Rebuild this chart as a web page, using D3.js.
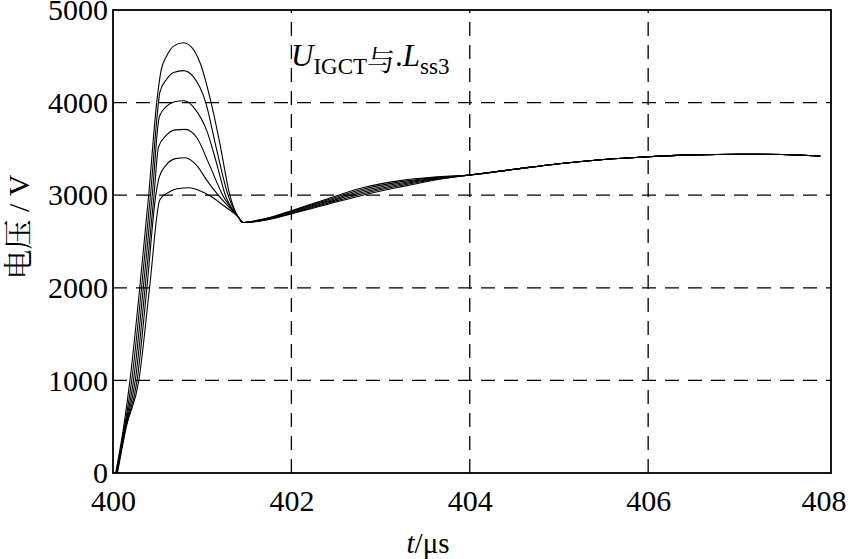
<!DOCTYPE html>
<html>
<head>
<meta charset="utf-8">
<script src="https://cdn.jsdelivr.net/npm/d3@7"></script>
<style>
  body { margin: 0; background: #fff; }
  svg { display: block; }
</style>
</head>
<body>
<svg id="chart" width="848" height="559"></svg>
<script>
// t in µs, U in V — one array per curve (six Lss3 values)
const curve1 = [[400.03,0],[400.12,500],[400.19,1000],[400.30,2000],[400.40,3000],[400.49,4000],[400.54,4350],
  [400.60,4500],[400.68,4610],[400.785,4647],[400.88,4600],[400.98,4420],[401.10,4000],[401.20,3550],[401.31,3000],[401.40,2770],[401.46,2705],
  [401.6,2715],[401.8,2750],[402.0,2798],[402.4,2900],[402.8,3000],[403.2,3085],[403.6,3162]];
const curve2 = [[400.035,0],[400.13,500],[400.21,1000],[400.32,2000],[400.42,3000],[400.51,4000],[400.525,4110],
  [400.60,4250],[400.68,4325],[400.79,4345],[400.90,4280],[401.04,4000],[401.16,3500],[401.29,3000],[401.40,2770],[401.46,2705],
  [401.6,2717],[401.8,2754],[402.0,2805],[402.4,2912],[402.8,3016],[403.2,3099],[403.6,3169]];
const curve3 = [[400.04,0],[400.135,500],[400.23,1000],[400.34,2000],[400.44,3000],[400.52,3850],
  [400.60,3960],[400.69,4010],[400.80,4020],[400.92,3930],[401.05,3700],[401.16,3350],[401.26,3000],[401.40,2770],[401.46,2705],
  [401.6,2719],[401.8,2758],[402.0,2812],[402.4,2924],[402.8,3032],[403.2,3113],[403.6,3176]];
const curve4 = [[400.04,0],[400.14,500],[400.25,1000],[400.36,2000],[400.46,3000],[400.51,3520],
  [400.60,3650],[400.70,3705],[400.81,3711],[400.94,3620],[401.08,3330],[401.23,3000],[401.40,2770],[401.46,2705],
  [401.6,2721],[401.8,2762],[402.0,2819],[402.4,2936],[402.8,3048],[403.2,3127],[403.6,3183]];
const curve5 = [[400.045,0],[400.145,500],[400.27,1000],[400.38,2000],[400.48,3000],[400.52,3200],
  [400.60,3330],[400.70,3395],[400.81,3405],[400.94,3320],[401.06,3150],[401.18,3000],[401.40,2770],[401.46,2705],
  [401.6,2723],[401.8,2766],[402.0,2826],[402.4,2948],[402.8,3064],[403.2,3141],[403.6,3190]];
const curve6 = [[400.05,0],[400.15,500],[400.29,1000],[400.41,2000],[400.525,2950],
  [400.62,3030],[400.72,3070],[400.86,3081],[400.98,3045],[401.10,2985],[401.25,2880],[401.40,2770],[401.46,2705],
  [401.6,2725],[401.8,2770],[402.0,2833],[402.4,2960],[402.8,3080],[403.2,3155],[403.6,3197]];
// all curves merge after ~404 µs
const tail = [[404.0,3218],[404.5,3280],[405.0,3340],[405.5,3385],[406.0,3415],[406.5,3435],[407.0,3443],[407.5,3440],[407.93,3423]];

const xTicks = [400, 402, 404, 406, 408];
const yTicks = [0, 1000, 2000, 3000, 4000, 5000];

const W = 848, H = 559;
const margin = {top: 10, right: 17, bottom: 86, left: 113};
const serif = '"Liberation Serif", "Times New Roman", serif';
const cjk = '"Liberation Serif", "Noto Serif CJK SC", serif';

const svg = d3.select("#chart");
const x = d3.scaleLinear().domain([400, 408.05]).range([margin.left, W - margin.right]);
const y = d3.scaleLinear().domain([0, 5000]).range([H - margin.bottom, margin.top]);

// dashed grid
const grid = svg.append("g")
  .attr("stroke", "#000").attr("stroke-width", 1.3).attr("stroke-dasharray", "14,9");
grid.selectAll("line.h").data(yTicks.slice(1, -1)).enter().append("line")
  .attr("x1", x.range()[0]).attr("x2", x.range()[1])
  .attr("y1", d => y(d)).attr("y2", d => y(d));
grid.selectAll("line.v").data(xTicks.slice(1, -1)).enter().append("line")
  .attr("y1", y.range()[0]).attr("y2", y.range()[1])
  .attr("x1", d => x(d)).attr("x2", d => x(d));

// curves
const line = d3.line().x(d => x(d[0])).y(d => y(d[1])).curve(d3.curveMonotoneX);
const series = [curve1, curve2, curve3, curve4, curve5, curve6].map(c => c.concat(tail));
svg.append("g").selectAll("path").data(series).enter().append("path")
  .attr("d", line).attr("fill", "none").attr("stroke", "#000").attr("stroke-width", 1.1);

// frame
svg.append("rect")
  .attr("x", x.range()[0]).attr("y", y.range()[1])
  .attr("width", x.range()[1] - x.range()[0]).attr("height", y.range()[0] - y.range()[1])
  .attr("fill", "none").attr("stroke", "#000").attr("stroke-width", 1.8);

// axes (labels only, grid acts as ticks)
const xAxis = svg.append("g").attr("transform", `translate(0,${y.range()[0]})`)
  .call(d3.axisBottom(x).tickValues(xTicks).tickFormat(d3.format("d")).tickSize(0).tickPadding(17));
const yAxis = svg.append("g").attr("transform", `translate(${x.range()[0]},0)`)
  .call(d3.axisLeft(y).tickValues(yTicks).tickFormat(d3.format("d")).tickSize(0).tickPadding(5));
[xAxis, yAxis].forEach(a => {
  a.select(".domain").remove();
  a.attr("font-family", serif).attr("font-size", 30);
  a.selectAll("text").attr("font-family", serif).attr("font-size", 30).attr("fill", "#000");
});
// keep the last x label inside the page
xAxis.selectAll(".tick text").filter(d => d === 408).attr("dx", -3);

// x label
const xl = svg.append("text").attr("x", 428).attr("y", 553).attr("text-anchor", "middle")
  .attr("font-family", serif).attr("font-size", 29);
xl.append("tspan").attr("font-style", "italic").text("t");
xl.append("tspan").text("/μs");

// y label
svg.append("text").attr("transform", "translate(29,227) rotate(-90)")
  .attr("text-anchor", "middle").attr("font-family", cjk).attr("font-size", 30)
  .text("电压 / V");

// annotation
const ann = svg.append("text").attr("x", 291).attr("y", 66).attr("font-family", serif).attr("font-size", 31);
ann.append("tspan").attr("font-style", "italic").text("U");
ann.append("tspan").attr("font-size", 23).attr("dy", 8).text("IGCT");
ann.append("tspan").attr("font-size", 28).attr("dy", -3).attr("font-family", cjk).text("与");
ann.append("tspan").attr("dy", -5).text(".");
ann.append("tspan").attr("font-style", "italic").text("L");
ann.append("tspan").attr("font-size", 23).attr("dy", 8).text("ss3");
</script>
</body>
</html>
